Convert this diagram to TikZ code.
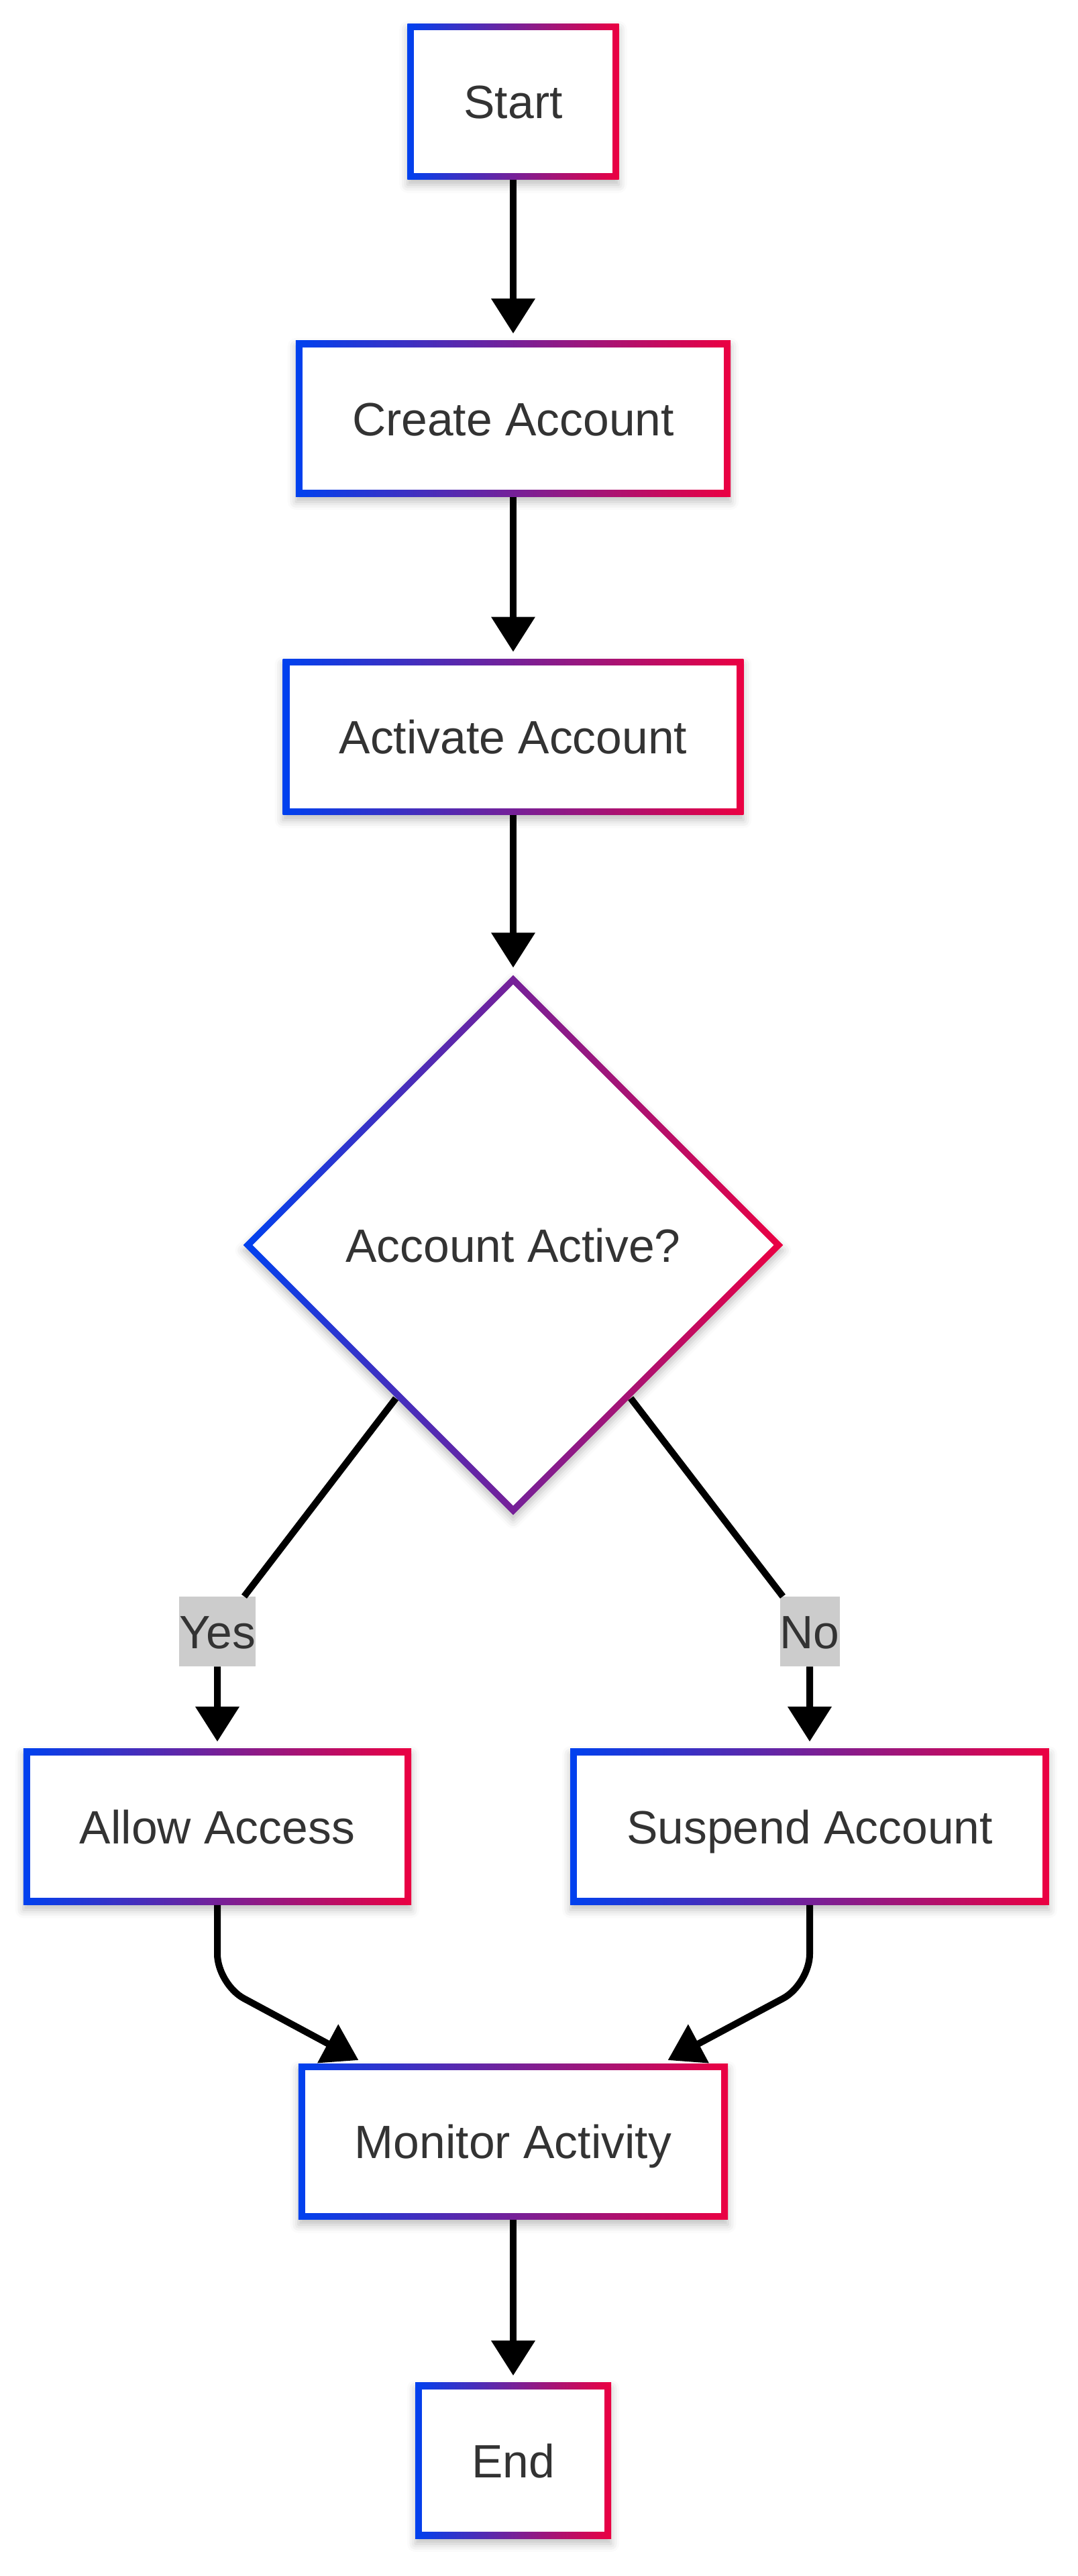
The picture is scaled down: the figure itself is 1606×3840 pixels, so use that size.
\documentclass[tikz,border=0pt]{standalone}
\usepackage{fontspec}
\setmainfont{Liberation Sans}
\usetikzlibrary{arrows.meta,shapes.geometric,shadows.blur}
\definecolor{flowblue}{HTML}{0041EF}
\definecolor{flowred}{HTML}{EB0042}
\definecolor{flowtext}{HTML}{333333}
\definecolor{labelgray}{HTML}{CCCCCC}
\tikzset{
  softshadow/.style={
    blur shadow={shadow xshift=0cm,shadow yshift=-0.08cm,shadow blur radius=0.12cm,shadow opacity=25}
  },
  gradbox/.style={
    rectangle, left color=flowblue, right color=flowred, softshadow,
    minimum height=2.32cm, inner xsep=0.84cm,
    text=flowtext, font=\fontsize{19.8}{24}\selectfont,
    text height=0.5cm, text depth=0pt,
    path picture={
      \fill[white] ([shift={(0.1cm,0.1cm)}]path picture bounding box.south west)
        rectangle ([shift={(-0.1cm,-0.1cm)}]path picture bounding box.north east);
    }
  },
  graddecision/.style={
    diamond, left color=flowblue, right color=flowred, softshadow,
    minimum width=8.05cm, minimum height=8.05cm, inner sep=0pt,
    text=flowtext, font=\fontsize{19.8}{24}\selectfont,
    text height=0.5cm, text depth=0pt,
    path picture={
      \fill[white] ([yshift=-0.14cm]path picture bounding box.north)
        -- ([xshift=-0.14cm]path picture bounding box.east)
        -- ([yshift=0.14cm]path picture bounding box.south)
        -- ([xshift=0.14cm]path picture bounding box.west) -- cycle;
    }
  },
  edgelabel/.style={
    rectangle, fill=labelgray, inner xsep=0pt, minimum height=1.03cm,
    text=flowtext, font=\fontsize{19.8}{24}\selectfont,
    text height=0.5cm, text depth=0pt
  },
  flow/.style={
    line width=0.1cm, draw=black,
    -{Triangle[length=0.52cm,width=0.63cm]}, shorten >=0.1cm
  }
}
\begin{document}
\begin{tikzpicture}[x=0.01cm,y=-0.01cm]
  \pgfmathsetmacro{\midx}{765};
  \pgfmathsetmacro{\leftx}{324};
  \pgfmathsetmacro{\rightx}{1207};
  \useasboundingbox (0,0) rectangle (1606,3840);
  % main column
  \node[gradbox] (start) at (\midx,151.5) {Start};
  \node[gradbox] (create) at (\midx,624) {Create Account};
  \node[gradbox] (activate) at (\midx,1098.5) {Activate Account};
  \node[graddecision] (check) at (\midx,1856) {Account Active?};
  % branches
  \node[gradbox] (allow) at (\leftx,2723) {Allow Access};
  \node[gradbox] (suspend) at (\rightx,2723) {Suspend Account};
  \node[edgelabel] (yes) at (\leftx,2432) {Yes};
  \node[edgelabel] (no) at (\rightx,2432) {No};
  \node[gradbox] (monitor) at (\midx,3192.5) {Monitor Activity};
  \node[gradbox] (finish) at (\midx,3668) {End};
  % edges
  \draw[flow] (start) -- (create);
  \draw[flow] (create) -- (activate);
  \draw[flow] (activate) -- (check);
  \draw[flow] (check) -- (yes) -- (allow);
  \draw[flow] (check) -- (no) -- (suspend);
  \draw[flow,rounded corners=0.45cm] (allow.south) -- ++(0,118) -- ([xshift=0.99cm]monitor.north west);
  \draw[flow,rounded corners=0.45cm] (suspend.south) -- ++(0,118) -- ([xshift=-0.99cm]monitor.north east);
  \draw[flow] (monitor) -- (finish);
\end{tikzpicture}
\end{document}
